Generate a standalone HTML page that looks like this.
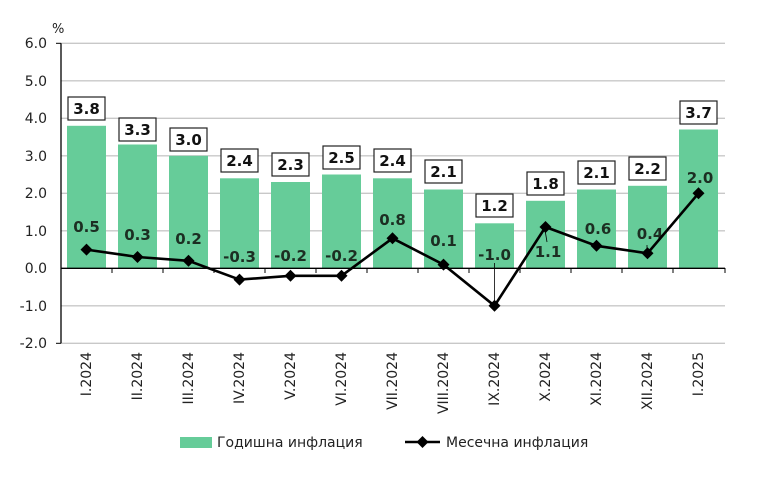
<!DOCTYPE html>
<html><head><meta charset="utf-8"><style>body{margin:0;background:#fff}svg{display:block}</style></head><body>
<svg width="763" height="478" viewBox="0 0 763 478" font-family="'DejaVu Sans','Liberation Sans',sans-serif">
<g stroke="#c8c8c8" stroke-width="1.3">
<line x1="61" x2="725" y1="43.3" y2="43.3"/><line x1="61" x2="725" y1="80.8" y2="80.8"/><line x1="61" x2="725" y1="118.3" y2="118.3"/><line x1="61" x2="725" y1="155.8" y2="155.8"/><line x1="61" x2="725" y1="193.3" y2="193.3"/><line x1="61" x2="725" y1="230.8" y2="230.8"/><line x1="61" x2="725" y1="305.8" y2="305.8"/><line x1="61" x2="725" y1="343.3" y2="343.3"/>
</g>
<g font-size="14" fill="#222" text-anchor="end">
<text x="47" y="48">6.0</text><text x="47" y="86">5.0</text><text x="47" y="123">4.0</text><text x="47" y="161">3.0</text><text x="47" y="198">2.0</text><text x="47" y="236">1.0</text><text x="47" y="273">0.0</text><text x="47" y="311">-1.0</text><text x="47" y="348">-2.0</text>
</g>
<text x="52" y="33" font-size="13" fill="#222">%</text>
<g fill="#66cc99">
<rect x="67" y="125.8" width="39" height="142.5"/>
<rect x="118" y="144.5" width="39" height="123.8"/>
<rect x="169" y="155.8" width="39" height="112.5"/>
<rect x="220" y="178.3" width="39" height="90"/>
<rect x="271" y="182" width="39" height="86.3"/>
<rect x="322" y="174.5" width="39" height="93.8"/>
<rect x="373" y="178.3" width="39" height="90"/>
<rect x="424" y="189.5" width="39" height="78.8"/>
<rect x="475" y="223.3" width="39" height="45"/>
<rect x="526" y="200.8" width="39" height="67.5"/>
<rect x="577" y="189.5" width="39" height="78.8"/>
<rect x="628" y="185.8" width="39" height="82.5"/>
<rect x="679" y="129.5" width="39" height="138.8"/>
</g>
<line x1="61" x2="61" y1="43.3" y2="343.3" stroke="#000" stroke-width="1.3"/>
<line x1="56" x2="61" y1="43.3" y2="43.3" stroke="#000"/><line x1="56" x2="61" y1="343.3" y2="343.3" stroke="#000"/>
<line x1="61" x2="725" y1="268.3" y2="268.3" stroke="#000" stroke-width="1.3"/>
<g stroke="#000"><line x1="112" x2="112" y1="268" y2="273"/><line x1="163" x2="163" y1="268" y2="273"/><line x1="214" x2="214" y1="268" y2="273"/><line x1="265" x2="265" y1="268" y2="273"/><line x1="316" x2="316" y1="268" y2="273"/><line x1="367" x2="367" y1="268" y2="273"/><line x1="418" x2="418" y1="268" y2="273"/><line x1="469" x2="469" y1="268" y2="273"/><line x1="520" x2="520" y1="268" y2="273"/><line x1="571" x2="571" y1="268" y2="273"/><line x1="622" x2="622" y1="268" y2="273"/><line x1="673" x2="673" y1="268" y2="273"/><line x1="725" x2="725" y1="268" y2="273"/></g>
<g font-size="15" font-weight="bold" text-anchor="middle">
<g fill="#fff" stroke="#222" stroke-width="1.2">
<rect x="68" y="97" width="37" height="23"/><rect x="119" y="118" width="37" height="23"/><rect x="170" y="128" width="37" height="23"/><rect x="221" y="149" width="37" height="23"/><rect x="272" y="153" width="37" height="23"/><rect x="323" y="146" width="37" height="23"/><rect x="374" y="149" width="37" height="23"/><rect x="425" y="160" width="37" height="23"/><rect x="476" y="194" width="37" height="23"/><rect x="527" y="172" width="37" height="23"/><rect x="578" y="161" width="37" height="23"/><rect x="629" y="157" width="37" height="23"/><rect x="680" y="101" width="37" height="23"/>
</g>
<g fill="#111">
<text x="86.5" y="114">3.8</text><text x="137.5" y="135">3.3</text><text x="188.5" y="145">3.0</text><text x="239.5" y="166">2.4</text><text x="290.5" y="170">2.3</text><text x="341.5" y="163">2.5</text><text x="392.5" y="166">2.4</text><text x="443.5" y="177">2.1</text><text x="494.5" y="211">1.2</text><text x="545.5" y="189">1.8</text><text x="596.5" y="178">2.1</text><text x="647.5" y="174">2.2</text><text x="698.5" y="118">3.7</text>
</g>
<g fill="#1c2e22">
<text x="86.5" y="232">0.5</text><text x="137.5" y="240">0.3</text><text x="188.5" y="244">0.2</text><text x="239.5" y="262">-0.3</text><text x="290.5" y="261">-0.2</text><text x="341.5" y="261">-0.2</text><text x="392.5" y="225">0.8</text><text x="443.5" y="246">0.1</text><text x="494.5" y="260">-1.0</text><text x="548" y="257">1.1</text><text x="598" y="234">0.6</text><text x="650" y="239">0.4</text><text x="700" y="183">2.0</text>
</g>
</g>
<g stroke="#000" stroke-width="0.8"><line x1="494.5" y1="263" x2="494.5" y2="300"/><line x1="545" y1="230" x2="547" y2="242"/><line x1="647" y1="245" x2="647" y2="250"/></g>
<polyline fill="none" stroke="#000" stroke-width="2.6" points="86.5,249.6 137.5,257 188.5,260.8 239.5,279.6 290.5,275.8 341.5,275.8 392.5,238.3 443.5,264.6 494.5,305.8 545.5,227 596.5,245.8 647.5,253.3 698.5,193.3"/>
<g fill="#000">
<path d="M86.5,243.6l6,6-6,6-6-6z"/><path d="M137.5,251l6,6-6,6-6-6z"/><path d="M188.5,254.8l6,6-6,6-6-6z"/><path d="M239.5,273.6l6,6-6,6-6-6z"/><path d="M290.5,269.8l6,6-6,6-6-6z"/><path d="M341.5,269.8l6,6-6,6-6-6z"/><path d="M392.5,232.3l6,6-6,6-6-6z"/><path d="M443.5,258.6l6,6-6,6-6-6z"/><path d="M494.5,299.8l6,6-6,6-6-6z"/><path d="M545.5,221l6,6-6,6-6-6z"/><path d="M596.5,239.8l6,6-6,6-6-6z"/><path d="M647.5,247.3l6,6-6,6-6-6z"/><path d="M698.5,187.3l6,6-6,6-6-6z"/>
</g>
<g font-size="14" fill="#222" text-anchor="end">
<text transform="translate(91,352) rotate(-90)">I.2024</text>
<text transform="translate(142,352) rotate(-90)">II.2024</text>
<text transform="translate(193,352) rotate(-90)">III.2024</text>
<text transform="translate(244,352) rotate(-90)">IV.2024</text>
<text transform="translate(295,352) rotate(-90)">V.2024</text>
<text transform="translate(346,352) rotate(-90)">VI.2024</text>
<text transform="translate(397,352) rotate(-90)">VII.2024</text>
<text transform="translate(448,352) rotate(-90)">VIII.2024</text>
<text transform="translate(499,352) rotate(-90)">IX.2024</text>
<text transform="translate(550,352) rotate(-90)">X.2024</text>
<text transform="translate(601,352) rotate(-90)">XI.2024</text>
<text transform="translate(652,352) rotate(-90)">XII.2024</text>
<text transform="translate(703,352) rotate(-90)">I.2025</text>
</g>
<rect x="180" y="437" width="32" height="11" fill="#66cc99"/>
<text x="217" y="447" font-size="14" fill="#222">Годишна инфлация</text>
<line x1="405" x2="440" y1="442" y2="442" stroke="#000" stroke-width="2.5"/>
<path d="M422.5,436l6,6-6,6-6-6z" fill="#000"/>
<text x="446" y="447" font-size="14" fill="#222">Месечна инфлация</text>
</svg>
</body></html>
